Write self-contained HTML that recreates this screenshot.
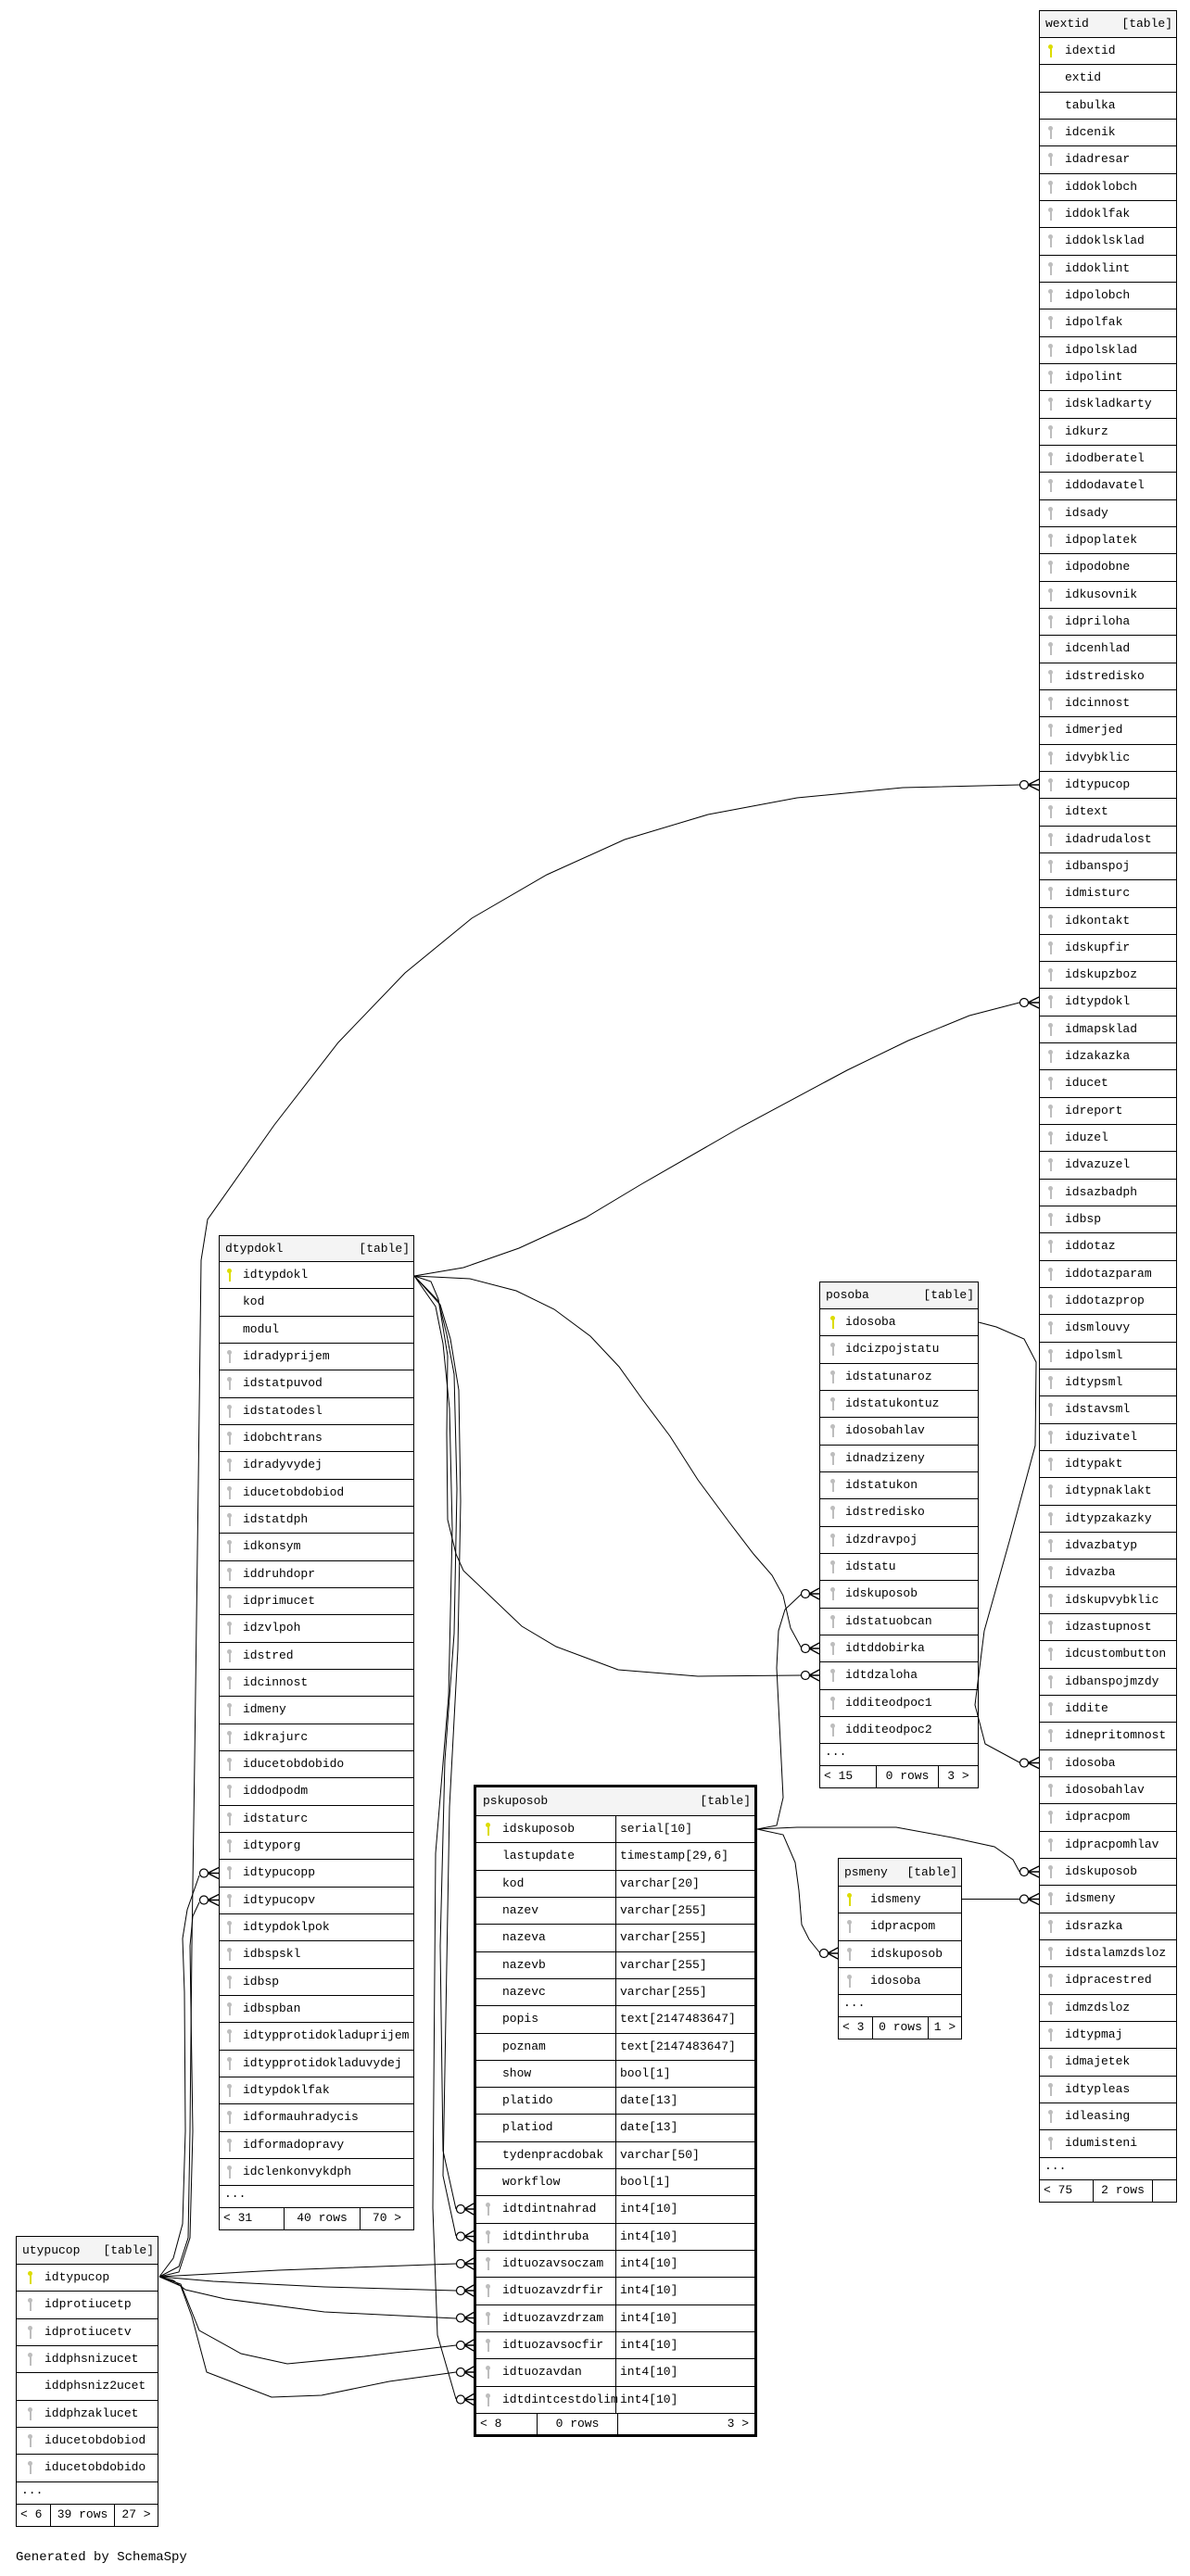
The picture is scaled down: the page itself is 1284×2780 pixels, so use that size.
<!DOCTYPE html>
<html><head><meta charset="utf-8">
<style>
html,body{margin:0;padding:0;background:#fff}
body{width:1284px;height:2780px;position:relative;overflow:hidden;font:13px "Liberation Mono","DejaVu Sans Mono",monospace;color:#000}
.t{position:absolute;border:1px solid #000;background:#fff;box-sizing:border-box}
.h{background:#f4f4f4;display:flex;justify-content:space-between;padding:0 4px 0 6px;white-space:nowrap}
.r{position:relative;height:29.33px;border-top:1px solid #000;box-sizing:border-box;line-height:28px;white-space:nowrap;overflow:hidden;padding-left:var(--p)}
.d{height:24px;border-top:1px solid #000;box-sizing:border-box;line-height:18px;padding-left:5px}
.f{display:flex;height:24px;border-top:1px solid #000;box-sizing:border-box;line-height:22px;white-space:nowrap}
.f span{box-sizing:border-box;overflow:hidden}
.f span:first-child{padding-left:4px}
.f span+span{border-left:1px solid #000;text-align:center}
.f span:last-child{flex:1}
.k{position:absolute;left:var(--k);top:7px;width:5px;height:15px}
.k::before{content:"";position:absolute;left:0;top:0;width:5px;height:5px;border-radius:50%;background:#bdbdbd}
.k::after{content:"";position:absolute;left:1.5px;top:3px;width:2px;height:11px;background:#bdbdbd}
.y::before,.y::after{background:#dcdc00}
.ps{position:absolute;left:511px;top:1926px;width:306px;height:704px;border:3px solid #000;box-sizing:border-box;background:#fff}
.ps .r{display:flex;padding-left:0}
.ps .r .n{position:relative;width:151px;border-right:1px solid #000;box-sizing:border-box;padding-left:28px;overflow:hidden}
.ps .r .ty{padding-left:4px}
svg{position:absolute;left:0;top:0}
.gen{position:absolute;left:17px;top:2752px;font-size:14px}
</style></head><body>

<!-- wextid -->
<div class="t" style="left:1121px;top:11px;width:149px;--p:27px;--k:9px">
<div class="h" style="height:28px;line-height:28px"><span>wextid</span><span>[table]</span></div>
<div class="r"><i class="k y"></i>idextid</div>
<div class="r">extid</div>
<div class="r">tabulka</div>
<div class="r"><i class="k"></i>idcenik</div>
<div class="r"><i class="k"></i>idadresar</div>
<div class="r"><i class="k"></i>iddoklobch</div>
<div class="r"><i class="k"></i>iddoklfak</div>
<div class="r"><i class="k"></i>iddoklsklad</div>
<div class="r"><i class="k"></i>iddoklint</div>
<div class="r"><i class="k"></i>idpolobch</div>
<div class="r"><i class="k"></i>idpolfak</div>
<div class="r"><i class="k"></i>idpolsklad</div>
<div class="r"><i class="k"></i>idpolint</div>
<div class="r"><i class="k"></i>idskladkarty</div>
<div class="r"><i class="k"></i>idkurz</div>
<div class="r"><i class="k"></i>idodberatel</div>
<div class="r"><i class="k"></i>iddodavatel</div>
<div class="r"><i class="k"></i>idsady</div>
<div class="r"><i class="k"></i>idpoplatek</div>
<div class="r"><i class="k"></i>idpodobne</div>
<div class="r"><i class="k"></i>idkusovnik</div>
<div class="r"><i class="k"></i>idpriloha</div>
<div class="r"><i class="k"></i>idcenhlad</div>
<div class="r"><i class="k"></i>idstredisko</div>
<div class="r"><i class="k"></i>idcinnost</div>
<div class="r"><i class="k"></i>idmerjed</div>
<div class="r"><i class="k"></i>idvybklic</div>
<div class="r"><i class="k"></i>idtypucop</div>
<div class="r"><i class="k"></i>idtext</div>
<div class="r"><i class="k"></i>idadrudalost</div>
<div class="r"><i class="k"></i>idbanspoj</div>
<div class="r"><i class="k"></i>idmisturc</div>
<div class="r"><i class="k"></i>idkontakt</div>
<div class="r"><i class="k"></i>idskupfir</div>
<div class="r"><i class="k"></i>idskupzboz</div>
<div class="r"><i class="k"></i>idtypdokl</div>
<div class="r"><i class="k"></i>idmapsklad</div>
<div class="r"><i class="k"></i>idzakazka</div>
<div class="r"><i class="k"></i>iducet</div>
<div class="r"><i class="k"></i>idreport</div>
<div class="r"><i class="k"></i>iduzel</div>
<div class="r"><i class="k"></i>idvazuzel</div>
<div class="r"><i class="k"></i>idsazbadph</div>
<div class="r"><i class="k"></i>idbsp</div>
<div class="r"><i class="k"></i>iddotaz</div>
<div class="r"><i class="k"></i>iddotazparam</div>
<div class="r"><i class="k"></i>iddotazprop</div>
<div class="r"><i class="k"></i>idsmlouvy</div>
<div class="r"><i class="k"></i>idpolsml</div>
<div class="r"><i class="k"></i>idtypsml</div>
<div class="r"><i class="k"></i>idstavsml</div>
<div class="r"><i class="k"></i>iduzivatel</div>
<div class="r"><i class="k"></i>idtypakt</div>
<div class="r"><i class="k"></i>idtypnaklakt</div>
<div class="r"><i class="k"></i>idtypzakazky</div>
<div class="r"><i class="k"></i>idvazbatyp</div>
<div class="r"><i class="k"></i>idvazba</div>
<div class="r"><i class="k"></i>idskupvybklic</div>
<div class="r"><i class="k"></i>idzastupnost</div>
<div class="r"><i class="k"></i>idcustombutton</div>
<div class="r"><i class="k"></i>idbanspojmzdy</div>
<div class="r"><i class="k"></i>iddite</div>
<div class="r"><i class="k"></i>idnepritomnost</div>
<div class="r"><i class="k"></i>idosoba</div>
<div class="r"><i class="k"></i>idosobahlav</div>
<div class="r"><i class="k"></i>idpracpom</div>
<div class="r"><i class="k"></i>idpracpomhlav</div>
<div class="r"><i class="k"></i>idskuposob</div>
<div class="r"><i class="k"></i>idsmeny</div>
<div class="r"><i class="k"></i>idsrazka</div>
<div class="r"><i class="k"></i>idstalamzdsloz</div>
<div class="r"><i class="k"></i>idpracestred</div>
<div class="r"><i class="k"></i>idmzdsloz</div>
<div class="r"><i class="k"></i>idtypmaj</div>
<div class="r"><i class="k"></i>idmajetek</div>
<div class="r"><i class="k"></i>idtypleas</div>
<div class="r"><i class="k"></i>idleasing</div>
<div class="r"><i class="k"></i>idumisteni</div>
<div class="d">...</div>
<div class="f"><span style="width:57px">&lt; 75</span><span style="width:64px">2 rows</span><span></span></div>
</div>

<!-- dtypdokl -->
<div class="t" style="left:236px;top:1333px;width:211px;--p:25px;--k:8px">
<div class="h" style="height:27px;line-height:27px"><span>dtypdokl</span><span>[table]</span></div>
<div class="r"><i class="k y"></i>idtypdokl</div>
<div class="r">kod</div>
<div class="r">modul</div>
<div class="r"><i class="k"></i>idradyprijem</div>
<div class="r"><i class="k"></i>idstatpuvod</div>
<div class="r"><i class="k"></i>idstatodesl</div>
<div class="r"><i class="k"></i>idobchtrans</div>
<div class="r"><i class="k"></i>idradyvydej</div>
<div class="r"><i class="k"></i>iducetobdobiod</div>
<div class="r"><i class="k"></i>idstatdph</div>
<div class="r"><i class="k"></i>idkonsym</div>
<div class="r"><i class="k"></i>iddruhdopr</div>
<div class="r"><i class="k"></i>idprimucet</div>
<div class="r"><i class="k"></i>idzvlpoh</div>
<div class="r"><i class="k"></i>idstred</div>
<div class="r"><i class="k"></i>idcinnost</div>
<div class="r"><i class="k"></i>idmeny</div>
<div class="r"><i class="k"></i>idkrajurc</div>
<div class="r"><i class="k"></i>iducetobdobido</div>
<div class="r"><i class="k"></i>iddodpodm</div>
<div class="r"><i class="k"></i>idstaturc</div>
<div class="r"><i class="k"></i>idtyporg</div>
<div class="r"><i class="k"></i>idtypucopp</div>
<div class="r"><i class="k"></i>idtypucopv</div>
<div class="r"><i class="k"></i>idtypdoklpok</div>
<div class="r"><i class="k"></i>idbspskl</div>
<div class="r"><i class="k"></i>idbsp</div>
<div class="r"><i class="k"></i>idbspban</div>
<div class="r"><i class="k"></i>idtypprotidokladuprijem</div>
<div class="r"><i class="k"></i>idtypprotidokladuvydej</div>
<div class="r"><i class="k"></i>idtypdoklfak</div>
<div class="r"><i class="k"></i>idformauhradycis</div>
<div class="r"><i class="k"></i>idformadopravy</div>
<div class="r"><i class="k"></i>idclenkonvykdph</div>
<div class="d">...</div>
<div class="f"><span style="width:69px">&lt; 31</span><span style="width:82px">40 rows</span><span>70 &gt;</span></div>
</div>

<!-- posoba -->
<div class="t" style="left:884px;top:1383px;width:172px;--p:27px;--k:11px">
<div class="h" style="height:28px;line-height:28px"><span>posoba</span><span>[table]</span></div>
<div class="r"><i class="k y"></i>idosoba</div>
<div class="r"><i class="k"></i>idcizpojstatu</div>
<div class="r"><i class="k"></i>idstatunaroz</div>
<div class="r"><i class="k"></i>idstatukontuz</div>
<div class="r"><i class="k"></i>idosobahlav</div>
<div class="r"><i class="k"></i>idnadzizeny</div>
<div class="r"><i class="k"></i>idstatukon</div>
<div class="r"><i class="k"></i>idstredisko</div>
<div class="r"><i class="k"></i>idzdravpoj</div>
<div class="r"><i class="k"></i>idstatu</div>
<div class="r"><i class="k"></i>idskuposob</div>
<div class="r"><i class="k"></i>idstatuobcan</div>
<div class="r"><i class="k"></i>idtddobirka</div>
<div class="r"><i class="k"></i>idtdzaloha</div>
<div class="r"><i class="k"></i>idditeodpoc1</div>
<div class="r"><i class="k"></i>idditeodpoc2</div>
<div class="d">...</div>
<div class="f"><span style="width:60px">&lt; 15</span><span style="width:67px">0 rows</span><span>3 &gt;</span></div>
</div>

<!-- psmeny -->
<div class="t" style="left:904px;top:2005px;width:134px;--p:34px;--k:9px">
<div class="h" style="height:29px;line-height:29px"><span>psmeny</span><span>[table]</span></div>
<div class="r"><i class="k y"></i>idsmeny</div>
<div class="r"><i class="k"></i>idpracpom</div>
<div class="r"><i class="k"></i>idskuposob</div>
<div class="r"><i class="k"></i>idosoba</div>
<div class="d">...</div>
<div class="f"><span style="width:36px">&lt; 3</span><span style="width:60px">0 rows</span><span>1 &gt;</span></div>
</div>

<!-- utypucop -->
<div class="t" style="left:17px;top:2413px;width:154px;--p:30px;--k:12px">
<div class="h" style="height:29px;line-height:29px"><span>utypucop</span><span>[table]</span></div>
<div class="r"><i class="k y"></i>idtypucop</div>
<div class="r"><i class="k"></i>idprotiucetp</div>
<div class="r"><i class="k"></i>idprotiucetv</div>
<div class="r"><i class="k"></i>iddphsnizucet</div>
<div class="r">iddphsniz2ucet</div>
<div class="r"><i class="k"></i>iddphzaklucet</div>
<div class="r"><i class="k"></i>iducetobdobiod</div>
<div class="r"><i class="k"></i>iducetobdobido</div>
<div class="d">...</div>
<div class="f"><span style="width:36px">&lt; 6</span><span style="width:69px">39 rows</span><span>27 &gt;</span></div>
</div>

<!-- pskuposob -->
<div class="ps" style="--k:10px">
<div class="h" style="height:30px;line-height:30px;padding-left:7px"><span>pskuposob</span><span>[table]</span></div>
<div class="r" style="height:29.32px"><div class="n"><i class="k y"></i>idskuposob</div><div class="ty">serial[10]</div></div>
<div class="r" style="height:29.32px"><div class="n">lastupdate</div><div class="ty">timestamp[29,6]</div></div>
<div class="r" style="height:29.32px"><div class="n">kod</div><div class="ty">varchar[20]</div></div>
<div class="r" style="height:29.32px"><div class="n">nazev</div><div class="ty">varchar[255]</div></div>
<div class="r" style="height:29.32px"><div class="n">nazeva</div><div class="ty">varchar[255]</div></div>
<div class="r" style="height:29.32px"><div class="n">nazevb</div><div class="ty">varchar[255]</div></div>
<div class="r" style="height:29.32px"><div class="n">nazevc</div><div class="ty">varchar[255]</div></div>
<div class="r" style="height:29.32px"><div class="n">popis</div><div class="ty">text[2147483647]</div></div>
<div class="r" style="height:29.32px"><div class="n">poznam</div><div class="ty">text[2147483647]</div></div>
<div class="r" style="height:29.32px"><div class="n">show</div><div class="ty">bool[1]</div></div>
<div class="r" style="height:29.32px"><div class="n">platido</div><div class="ty">date[13]</div></div>
<div class="r" style="height:29.32px"><div class="n">platiod</div><div class="ty">date[13]</div></div>
<div class="r" style="height:29.32px"><div class="n">tydenpracdobak</div><div class="ty">varchar[50]</div></div>
<div class="r" style="height:29.32px"><div class="n">workflow</div><div class="ty">bool[1]</div></div>
<div class="r" style="height:29.32px"><div class="n"><i class="k"></i>idtdintnahrad</div><div class="ty">int4[10]</div></div>
<div class="r" style="height:29.32px"><div class="n"><i class="k"></i>idtdinthruba</div><div class="ty">int4[10]</div></div>
<div class="r" style="height:29.32px"><div class="n"><i class="k"></i>idtuozavsoczam</div><div class="ty">int4[10]</div></div>
<div class="r" style="height:29.32px"><div class="n"><i class="k"></i>idtuozavzdrfir</div><div class="ty">int4[10]</div></div>
<div class="r" style="height:29.32px"><div class="n"><i class="k"></i>idtuozavzdrzam</div><div class="ty">int4[10]</div></div>
<div class="r" style="height:29.32px"><div class="n"><i class="k"></i>idtuozavsocfir</div><div class="ty">int4[10]</div></div>
<div class="r" style="height:29.32px"><div class="n"><i class="k"></i>idtuozavdan</div><div class="ty">int4[10]</div></div>
<div class="r" style="height:29.32px"><div class="n" style="overflow:visible"><i class="k"></i>idtdintcestdolim</div><div class="ty">int4[10]</div></div>
<div class="f" style="height:23px"><span style="width:65px">&lt; 8</span><span style="width:87px">0 rows</span><span style="text-align:right;padding-right:6px">3 &gt;</span></div>
</div>

<svg width="1284" height="2780" viewBox="0 0 1284 2780" fill="none" stroke="#000" stroke-width="1">
<!-- utypucop -> wextid.idtypucop -->
<polyline points="172,2457 193,2446 203,2415 205,2300 207,2100 210,1900 214,1600 217,1360 224,1316 296,1214 365,1125 437,1050 509,991 590,944 674,906 764,879 860,861 974,850 1100,847"/>
<!-- utypucop -> dtypdokl -->
<polyline points="172,2457 187,2437 197,2400 200,2300 199,2150 197,2092 202,2061 215,2024"/>
<polyline points="172,2457 193,2452 205,2415 208,2300 205,2100 208,2068 215,2053"/>
<!-- utypucop -> pskuposob -->
<polyline points="172,2457 300,2450 492,2443"/>
<polyline points="172,2457 230,2462 350,2468 492,2472"/>
<polyline points="172,2457 187,2461 200,2471 243,2481 350,2495 492,2502"/>
<polyline points="172,2457 195,2465 205,2490 215,2515 260,2540 310,2551 393,2543 492,2531"/>
<polyline points="172,2457 195,2467 207,2500 223,2560 293,2587 347,2585 420,2570 492,2560"/>
<!-- dtypdokl -> wextid.idtypdokl -->
<polyline points="447,1377 500,1368 560,1347 597,1330 632,1314 692,1278 800,1216 914,1155 980,1123 1046,1096 1100,1082"/>
<!-- dtypdokl -> posoba -->
<polyline points="447,1377 507,1380 557,1393 598,1413 637,1442 668,1475 693,1510 723,1550 753,1597 787,1643 813,1677 833,1700 845,1722 853,1757 865,1779"/>
<polyline points="447,1377 465,1383 473,1402 483,1463 482,1547 483,1640 492,1677 500,1695 563,1755 600,1777 667,1802 753,1809 865,1808"/>
<!-- dtypdokl -> pskuposob -->
<polyline points="447,1377 473,1404 482,1440 490,1483 493,1607 490,1763 480,1900 475,2100 478,2321 492,2384"/>
<polyline points="447,1377 475,1408 486,1445 495,1500 497,1620 494,1780 485,1950 478,2348 492,2413"/>
<polyline points="447,1377 470,1410 478,1450 485,1520 488,1650 484,1830 470,2000 467,2383 472,2520 492,2589"/>
<!-- posoba.idosoba -> wextid.idosoba -->
<polyline points="1056,1427 1075,1432 1105,1445 1118,1470 1117,1560 1090,1660 1062,1760 1052,1840 1063,1882 1100,1902"/>
<!-- pskuposob -> posoba / psmeny / wextid -->
<polyline points="817,1974 838,1970 845,1940 842,1880 838,1800 840,1760 847,1737 865,1720"/>
<polyline points="817,1974 845,1980 858,2010 862,2040 865,2077 873,2093 885,2108"/>
<polyline points="817,1974 860,1972 967,1972 1027,1983 1073,1993 1093,2007 1100,2020"/>
<!-- psmeny -> wextid.idsmeny -->
<polyline points="1038,2049.5 1100,2049.5"/>

<!-- end markers: circle + crow's foot -->
<g fill="#fff" stroke-width="1.2">
<circle cx="1105" cy="847" r="4.5"/><circle cx="1105" cy="1082" r="4.5"/><circle cx="1105" cy="1902.5" r="4.5"/><circle cx="1105" cy="2020" r="4.5"/><circle cx="1105" cy="2049.5" r="4.5"/>
<circle cx="869" cy="1720" r="4.5"/><circle cx="869" cy="1779" r="4.5"/><circle cx="869" cy="1808" r="4.5"/>
<circle cx="889" cy="2108" r="4.5"/>
<circle cx="220" cy="2021.5" r="4.5"/><circle cx="220" cy="2050.5" r="4.5"/>
<circle cx="497" cy="2384" r="4.5"/><circle cx="497" cy="2413.5" r="4.5"/><circle cx="497" cy="2443" r="4.5"/><circle cx="497" cy="2472" r="4.5"/><circle cx="497" cy="2501.5" r="4.5"/><circle cx="497" cy="2531" r="4.5"/><circle cx="497" cy="2560" r="4.5"/><circle cx="497" cy="2589.5" r="4.5"/>
</g>
<g stroke-width="1.4">
<path d="M1109.5 847H1121M1109 847L1121 841M1109 847L1121 853"/>
<path d="M1109.5 1082H1121M1109 1082L1121 1076M1109 1082L1121 1088"/>
<path d="M1109.5 1902.5H1121M1109 1902.5L1121 1896.5M1109 1902.5L1121 1908.5"/>
<path d="M1109.5 2020H1121M1109 2020L1121 2014M1109 2020L1121 2026"/>
<path d="M1109.5 2049.5H1121M1109 2049.5L1121 2043.5M1109 2049.5L1121 2055.5"/>
<path d="M873.5 1720H884M873 1720L884 1714M873 1720L884 1726"/>
<path d="M873.5 1779H884M873 1779L884 1773M873 1779L884 1785"/>
<path d="M873.5 1808H884M873 1808L884 1802M873 1808L884 1814"/>
<path d="M893.5 2108H904M893 2108L904 2102M893 2108L904 2114"/>
<path d="M224.5 2021.5H236M224 2021.5L236 2015.5M224 2021.5L236 2027.5"/>
<path d="M224.5 2050.5H236M224 2050.5L236 2044.5M224 2050.5L236 2056.5"/>
<path d="M501.5 2384H511M501 2384L511 2378M501 2384L511 2390"/>
<path d="M501.5 2413.5H511M501 2413.5L511 2407.5M501 2413.5L511 2419.5"/>
<path d="M501.5 2443H511M501 2443L511 2437M501 2443L511 2449"/>
<path d="M501.5 2472H511M501 2472L511 2466M501 2472L511 2478"/>
<path d="M501.5 2501.5H511M501 2501.5L511 2495.5M501 2501.5L511 2507.5"/>
<path d="M501.5 2531H511M501 2531L511 2525M501 2531L511 2537"/>
<path d="M501.5 2560H511M501 2560L511 2554M501 2560L511 2566"/>
<path d="M501.5 2589.5H511M501 2589.5L511 2583.5M501 2589.5L511 2595.5"/>
</g>
</svg>

<div class="gen">Generated by SchemaSpy</div>
</body></html>
